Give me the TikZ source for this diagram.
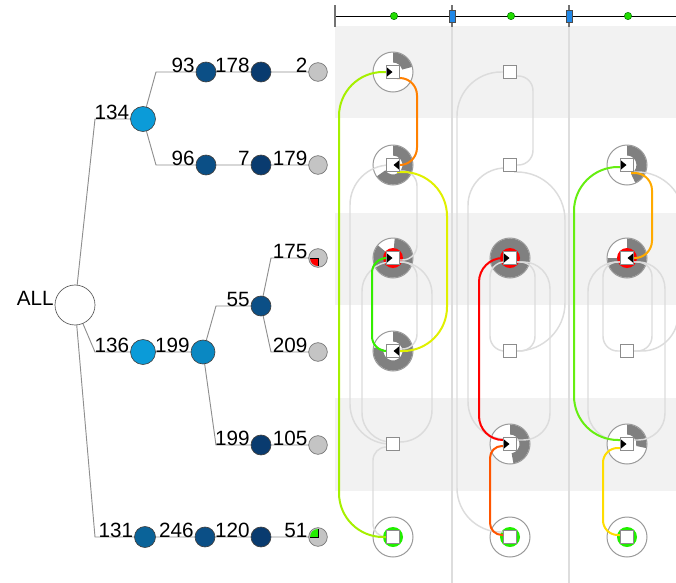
\documentclass[tikz,border=0pt]{standalone}
\usepackage{fontspec}
\setmainfont{Liberation Sans}
\usetikzlibrary{calc}
\pgfdeclarelayer{bg}
\pgfdeclarelayer{glyph}
\pgfdeclarelayer{links}
\pgfsetlayers{bg,glyph,links,main}

\definecolor{band}{HTML}{F2F2F2}
\definecolor{sepgray}{HTML}{DDDDDD}
\definecolor{linkgray}{HTML}{DCDCDC}
\definecolor{ringgray}{HTML}{808080}
\definecolor{circgray}{HTML}{9A9A9A}
\definecolor{sqgray}{HTML}{8C8C8C}
\definecolor{edgegray}{HTML}{8F8F8F}
\definecolor{ringgreen}{HTML}{22EE00}
\definecolor{lblue}{HTML}{0B9BD8}
\definecolor{mblue}{HTML}{0A88C2}
\definecolor{nblue}{HTML}{0A6399}
\definecolor{dblue}{HTML}{0B4F86}
\definecolor{ddblue}{HTML}{093B6F}
\definecolor{leafgray}{HTML}{C4C4C4}
\definecolor{tlblue}{HTML}{2088E8}
\definecolor{tgreen}{HTML}{22DD00}
\definecolor{fLime}{HTML}{A6F000}
\definecolor{fOrange}{HTML}{FF8000}
\definecolor{fYellowGreen}{HTML}{E0F000}
\definecolor{fGreen}{HTML}{33EE00}
\definecolor{fRed}{HTML}{FF0000}
\definecolor{fRedOrange}{HTML}{FF5500}
\definecolor{fGreen2}{HTML}{66EE11}
\definecolor{fAmber}{HTML}{FFAA00}
\definecolor{fYellow}{HTML}{FFDD00}

\begin{document}
\begin{tikzpicture}[x=0.75pt,y=-0.75pt,
  tn/.style={circle,draw=black!75,line width=0.5pt,inner sep=0pt},
  leaf/.style={tn,fill=leafgray,draw=black!55,minimum size=14pt},
  lab/.style={anchor=base east,inner sep=0.6pt,font=\fontsize{15.5}{18}\selectfont},
  edge/.style={draw=edgegray,line width=0.7pt},
  sq/.style={rectangle,draw=sqgray,fill=white,line width=0.7pt,minimum size=9.75pt,inner sep=0pt},
  link/.style={draw=linkgray,line width=1.1pt},
  flow/.style={line width=1.5pt},
  bluebox/.style={rectangle,fill=tlblue,draw=black!70,line width=0.5pt,minimum width=4.5pt,minimum height=9pt,inner sep=0pt},
  gdot/.style={circle,fill=tgreen,draw=green!45!black,line width=0.4pt,minimum size=5.5pt,inner sep=0pt}
]
\useasboundingbox (0,0) rectangle (676,583);

% ---------- background bands and column separators ----------
\begin{pgfonlayer}{bg}
  \fill[band] (335,26) rectangle (676,118);
  \fill[band] (335,213) rectangle (676,305);
  \fill[band] (335,398) rectangle (676,491);
  \draw[sepgray,line width=0.8pt] (452,26) -- (452,583);
  \draw[sepgray,line width=0.8pt] (569,26) -- (569,583);
\end{pgfonlayer}

% ---------- time axis ----------
\draw[black,line width=0.75pt] (335,16) -- (676,16);
\draw[black!55,line width=1.2pt] (335,5) -- (335,27);
\draw[black!55,line width=1pt] (452,5) -- (452,27);
\draw[black!55,line width=1pt] (569,5) -- (569,27);
\node[bluebox] (tb1) at (452,16) {};
\node[bluebox] (tb2) at (569,16) {};
\node[gdot] (tg1) at (394,16) {};
\node[gdot] (tg2) at (511,16) {};
\node[gdot] (tg3) at (628,16) {};

% ---------- glyph grid positions ----------
\foreach \c/\x in {1/393,2/510,3/627}{
  \foreach \r/\y in {1/72,2/165,3/258,4/351,5/444,6/537}{
    \coordinate (c\c\r) at (\x,\y);
  }
}

% ---------- glyph discs, proportion rings, state rings ----------
\begin{pgfonlayer}{glyph}
  \foreach \p in {c11,c12,c13,c14,c16,c23,c25,c26,c32,c33,c35,c36}
    {\fill[white] (\p) circle[radius=20];}
  \foreach \p/\a/\b in {c11/-90/-15,c12/-90/145,c13/-85/220,c14/-90/190,
                        c23/-90/270,c25/-90/80,c32/-90/65,c33/-90/180,c35/-90/12}
    {\fill[ringgray] ([shift={(\a:19.6)}]\p) arc[start angle=\a,end angle=\b,radius=19.6]
        -- ([shift={(\b:9.5)}]\p) arc[start angle=\b,end angle=\a,radius=9.5] -- cycle;}
  \foreach \p in {c11,c12,c13,c14,c16,c23,c25,c26,c32,c33,c35,c36}
    {\draw[circgray,line width=0.75pt] (\p) circle[radius=20];}
  \foreach \p in {c13,c23,c33} {\fill[fRed] (\p) circle[radius=10];}
  \foreach \p in {c16,c26,c36} {\fill[ringgreen] (\p) circle[radius=10];}
\end{pgfonlayer}

% ---------- state squares ----------
\foreach \p in {11,12,13,14,15,16,21,22,23,24,25,26,32,33,34,35,36}
  {\node[sq] (s\p) at (c\p) {};}

% ---------- connectors ----------
\begin{pgfonlayer}{links}
  % column 1, grey
  \draw[link,rounded corners=30pt] (s12.center) -| ($(s15)+(-43,0)$) -- (s15.center);
  \draw[link,rounded corners=11pt] ($(s12)+(4,6)$) -| ($(s13)+(24,2)$) -- ($(s13)+(0,2)$);
  \draw[link,rounded corners=22pt] ($(s13)+(0,4)$) -| ($(s15)+(-31,-2)$) -- ($(s15)+(0,-2)$);
  \draw[link,rounded corners=24pt] ($(s13)+(0,4)$) -| ($(s15)+(39,-2)$) -- ($(s15)+(0,-2)$);
  \draw[link,rounded corners=11pt] ($(s13)+(0,4)$) -| ($(s14)+(24,-2)$) -- ($(s14)+(0,-2)$);
  \draw[link,rounded corners=10pt] ($(s15)+(0,3)$) -| ($(s16)+(-20,0)$) -- (s16.center);
  % column 2, grey
  \draw[link,rounded corners=33pt] (s21.center) -| ($(s26)+(-53,-5)$) -- ($(s26)+(0,-5)$);
  \draw[link,rounded corners=11pt] ($(s21)+(4,4)$) -| ($(s22)+(23,0)$) -- (s22.center);
  \draw[link,rounded corners=28pt] ($(s22)+(0,3)$) -| ($(s25)+(-42,-5)$) -- ($(s25)+(0,-5)$);
  \draw[link,rounded corners=36pt] ($(s22)+(4,7)$) -| ($(s24)+(55,0)$) -- (s24.center);
  \draw[link,rounded corners=11pt] ($(s23)+(0,4)$) -| ($(s24)+(-20,0)$) -- (s24.center);
  \draw[link,rounded corners=11pt] ($(s23)+(0,4)$) -| ($(s24)+(25,0)$) -- (s24.center);
  \draw[link,rounded corners=20pt] ($(s23)+(0,4)$) -| ($(s25)+(40,-4)$) -- ($(s25)+(0,-4)$);
  % column 3, grey
  \draw[link,rounded corners=35pt] ($(s32)+(4,7)$) -| ($(s32)+(57,200)$);
  \draw[link,rounded corners=22pt] ($(s33)+(0,4)$) -| ($(s35)+(-39,-4)$) -- ($(s35)+(0,-4)$);
  \draw[link,rounded corners=11pt] ($(s33)+(0,4)$) -| ($(s34)+(-24,0)$) -- (s34.center);
  \draw[link,rounded corners=11pt] ($(s33)+(0,4)$) -| ($(s34)+(25,0)$) -- (s34.center);
  \draw[link,rounded corners=20pt] ($(s33)+(0,4)$) -| ($(s35)+(38,-4)$) -- ($(s35)+(0,-4)$);
  \draw[link,rounded corners=27pt] (s34.center) -| ($(s34)+(51,-150)$);

  % column 1, coloured
  \draw[flow,fLime,rounded corners=33pt] (s16.center) -| ($(s11)+(-54,0)$) -- (s11.center);
  \draw[flow,fOrange,rounded corners=13pt] ($(s11)+(4,6)$) -| ($(s12)+(24,0)$) -- (s12.center);
  \draw[flow,fYellowGreen,rounded corners=33pt] ($(s12)+(4,7)$) -| ($(s14)+(54,0)$) -- (s14.center);
  \draw[flow,fGreen,rounded corners=11pt] (s14.center) -| ($(s13)+(-21,0)$) -- (s13.center);
  % column 2, coloured
  \draw[flow,fRed,rounded corners=18pt] ($(s25)+(0,-4)$) -| ($(s23)+(-31,0)$) -- (s23.center);
  \draw[flow,fRedOrange,rounded corners=9pt] ($(s26)+(0,-2)$) -| ($(s25)+(-20,2)$) -- ($(s25)+(0,2)$);
  % column 3, coloured
  \draw[flow,fGreen2,rounded corners=33pt] ($(s35)+(0,-4)$) -| ($(s32)+(-53,2)$) -- ($(s32)+(0,2)$);
  \draw[flow,fAmber,rounded corners=13pt] ($(s32)+(4,8)$) -| ($(s33)+(25,0)$) -- (s33.center);
  \draw[flow,fYellow,rounded corners=11pt] ($(s36)+(0,-2)$) -| ($(s35)+(-24,4)$) -- ($(s35)+(0,4)$);
\end{pgfonlayer}

% ---------- direction markers ----------
\foreach \p in {s11,s13,s23,s25,s32,s35}
  {\fill[black] ($(\p)+(-6,-4.5)$) -- ++(0,9) -- ++(5.5,-4.5) -- cycle;}
\foreach \p in {s12,s14,s33}
  {\fill[black] ($(\p)+(6,-4.5)$) -- ++(0,9) -- ++(-5.5,-4.5) -- cycle;}

% ---------- hierarchy ----------
\node[tn,fill=white,draw=black!65,minimum size=30pt] (all) at (75,305) {};
\node[tn,fill=lblue,minimum size=18.75pt] (n134) at (143,119) {};
\node[tn,fill=dblue,minimum size=15pt] (n93) at (206,72) {};
\node[tn,fill=ddblue,minimum size=15pt] (n178) at (261,72) {};
\node[leaf] (n2) at (318,72) {};
\node[tn,fill=dblue,minimum size=15pt] (n96) at (206,165) {};
\node[tn,fill=ddblue,minimum size=15pt] (n7) at (261,165) {};
\node[leaf] (n179) at (318,165) {};
\node[tn,fill=lblue,minimum size=18.75pt] (n136) at (143,352) {};
\node[tn,fill=mblue,minimum size=18pt] (n199) at (203,352) {};
\node[tn,fill=dblue,minimum size=15pt] (n55) at (261,306) {};
\node[leaf] (n175) at (318,258) {};
\node[leaf] (n209) at (318,352) {};
\node[tn,fill=ddblue,minimum size=15pt] (n199b) at (261,445) {};
\node[leaf] (n105) at (318,445) {};
\node[tn,fill=nblue,minimum size=15.75pt] (n131) at (145,537) {};
\node[tn,fill=dblue,minimum size=15pt] (n246) at (205,537) {};
\node[tn,fill=ddblue,minimum size=15pt] (n120) at (261,537) {};
\node[leaf] (n51) at (318,537) {};

\begin{pgfonlayer}{links}
  \draw[edge] (all.center) -- ($(n134)+(-48,0)$) -- (n134.center);
  \draw[edge] (n134.center) -- ($(n93)+(-50,0)$) -- (n93.center) -- (n178.center) -- (n2.center);
  \draw[edge] (n134.center) -- ($(n96)+(-50,0)$) -- (n96.center) -- (n7.center) -- (n179.center);
  \draw[edge] (all.center) -- ($(n136)+(-48,0)$) -- (n136.center) -- (n199.center);
  \draw[edge] (n199.center) -- ($(n55)+(-45,0)$) -- (n55.center);
  \draw[edge] (n55.center) -- ($(n175)+(-47,0)$) -- (n175.center);
  \draw[edge] (n55.center) -- ($(n209)+(-47,0)$) -- (n209.center);
  \draw[edge] (n199.center) -- ($(n199b)+(-45,0)$) -- (n199b.center) -- (n105.center);
  \draw[edge] (all.center) -- ($(n131)+(-50,0)$) -- (n131.center) -- (n246.center) -- (n120.center) -- (n51.center);
\end{pgfonlayer}

% small state marks on two leaves
\fill[fRed] (n175.center) -- ++(-8,0) arc[start angle=180,end angle=90,radius=8] -- cycle;
\draw[black,line width=0.6pt] ($(n175)+(-8,0)$) -- (n175.center) -- ($(n175)+(0,8)$);
\fill[ringgreen] (n51.center) -- ++(-8,0) arc[start angle=180,end angle=270,radius=8] -- cycle;
\draw[black,line width=0.6pt] ($(n51)+(-8,0)$) -- (n51.center) -- ($(n51)+(0,-8)$);

% labels
\node[lab] (lall) at (all.west) {ALL};
\node[lab] (l134) at (n134.west) {134};
\node[lab] (l93) at (n93.west) {93};
\node[lab] (l178) at (n178.west) {178};
\node[lab] (l2) at (n2.west) {2};
\node[lab] (l96) at (n96.west) {96};
\node[lab] (l7) at (n7.west) {7};
\node[lab] (l179) at (n179.west) {179};
\node[lab] (l136) at (n136.west) {136};
\node[lab] (l199) at (n199.west) {199};
\node[lab] (l55) at (n55.west) {55};
\node[lab] (l175) at (n175.west) {175};
\node[lab] (l209) at (n209.west) {209};
\node[lab] (l199b) at (n199b.west) {199};
\node[lab] (l105) at (n105.west) {105};
\node[lab] (l131) at (n131.west) {131};
\node[lab] (l246) at (n246.west) {246};
\node[lab] (l120) at (n120.west) {120};
\node[lab] (l51) at (n51.west) {51};
\end{tikzpicture}
\end{document}
